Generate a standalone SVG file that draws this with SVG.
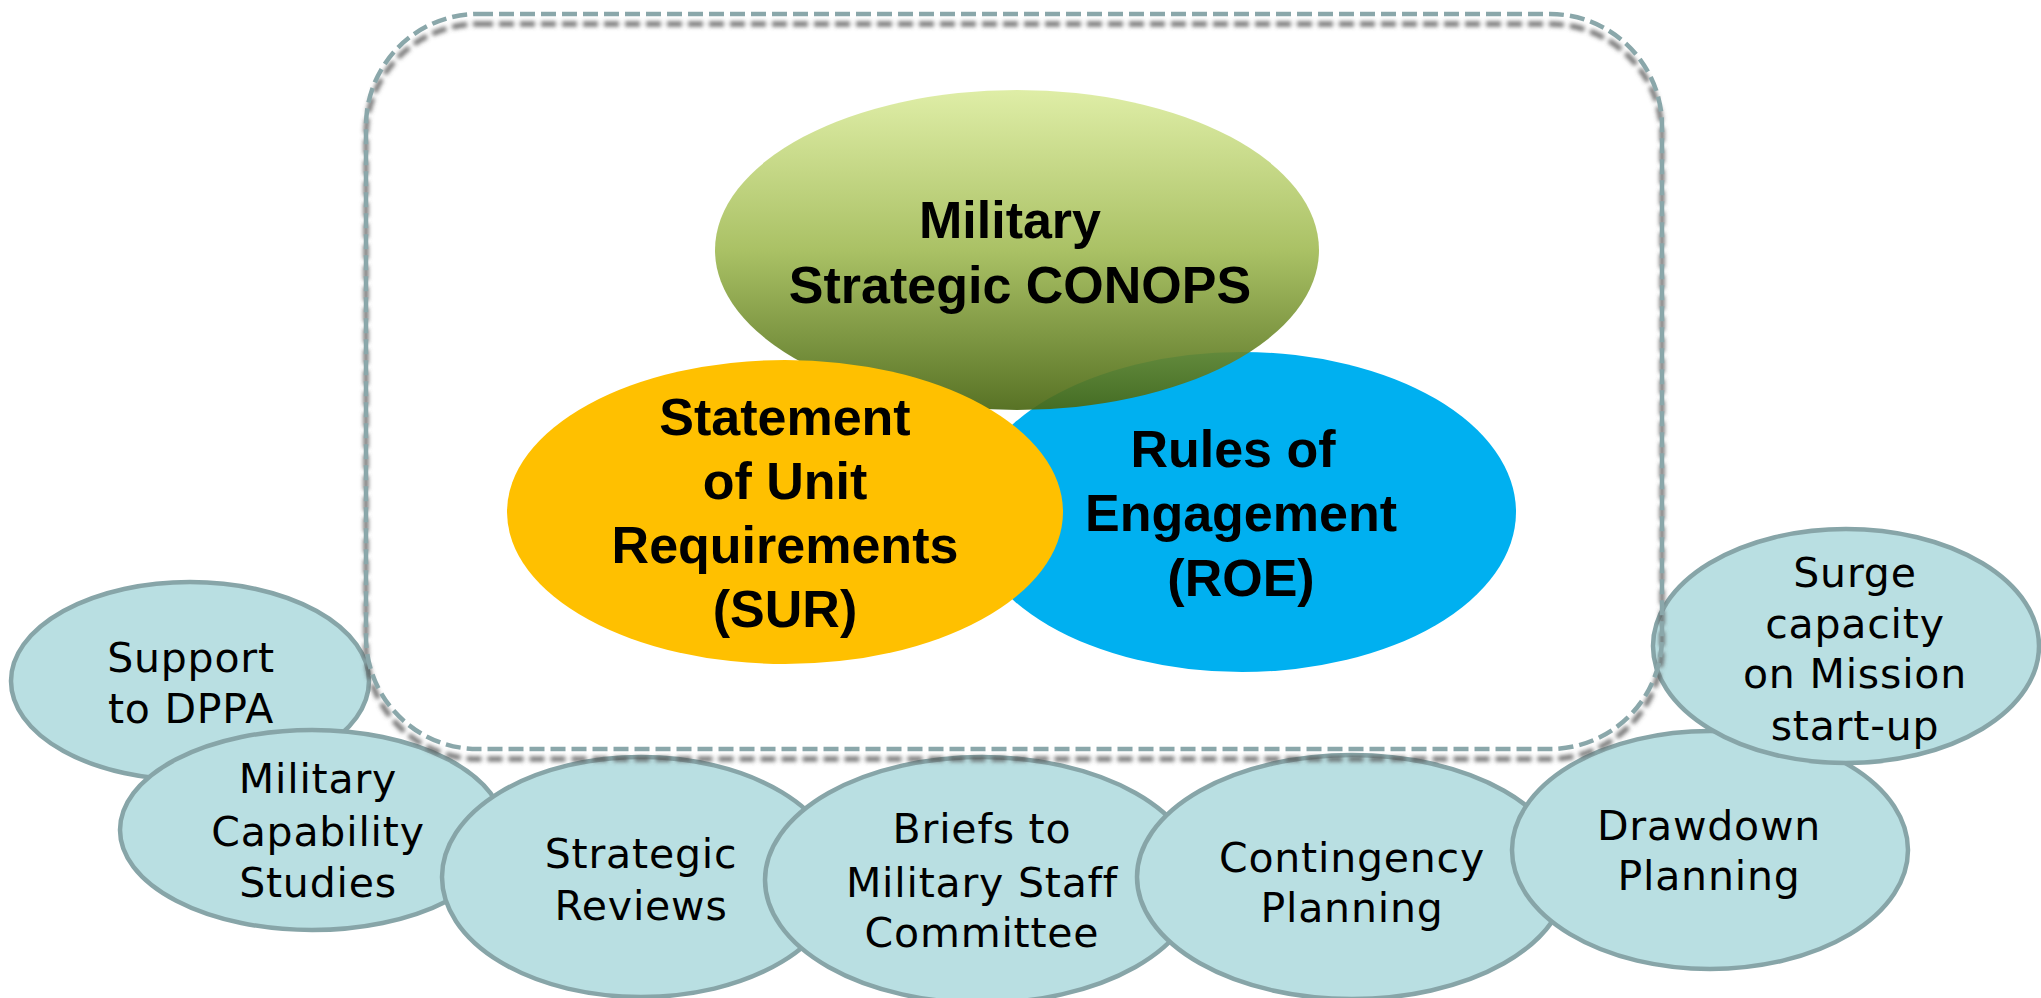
<svg xmlns="http://www.w3.org/2000/svg" width="2041" height="998" viewBox="0 0 2041 998">
  <defs>
    <linearGradient id="gGreen" x1="0" y1="0" x2="0" y2="1">
      <stop offset="0" stop-color="#DCEC9F"/>
      <stop offset="0.5" stop-color="#A3BC58"/>
      <stop offset="1" stop-color="#4A6713"/>
    </linearGradient>
    <filter id="blur" x="-5%" y="-5%" width="110%" height="110%">
      <feGaussianBlur stdDeviation="2.2"/>
    </filter>
  </defs>
  <style>
    .big { font-family: "Liberation Sans", Arial, sans-serif; font-weight: bold; font-size: 52px; fill: #000; text-anchor: middle; }
    .small { font-family: "DejaVu Sans", "Liberation Sans", sans-serif; font-size: 41px; letter-spacing: 0.8px; fill: #000; text-anchor: middle; }
    .bubble { fill: #B9DFE2; stroke: #87A5A8; stroke-width: 4.5; }
    .frame { fill: none; stroke: #8AA7AA; stroke-width: 4.5; stroke-dasharray: 15 6; }
    .frameShadow { fill: none; stroke: #555; stroke-opacity: 0.85; stroke-width: 5; stroke-dasharray: 15 6; }
  </style>
  <rect width="2041" height="998" fill="#FFFFFF"/>

  <g id="node-roe">
    <ellipse cx="1242" cy="512" rx="274" ry="160" fill="#00B0F0"/>
  </g>
  <g id="node-conops">
    <ellipse cx="1017" cy="250" rx="302" ry="160" fill="url(#gGreen)" fill-opacity="0.92"/>
    <text class="big" x="1010" y="238">Military</text>
    <text class="big" x="1020" y="303">Strategic CONOPS</text>
  </g>
  <g id="node-sur">
    <ellipse cx="785" cy="512" rx="278" ry="152" fill="#FFC000"/>
    <text class="big" x="785" y="435">Statement</text>
    <text class="big" x="785" y="499">of Unit</text>
    <text class="big" x="785" y="563">Requirements</text>
    <text class="big" x="785" y="627">(SUR)</text>
  </g>
  <g id="node-roe-label">
    <text class="big" x="1233" y="467">Rules of</text>
    <text class="big" x="1241" y="531">Engagement</text>
    <text class="big" x="1241" y="596">(ROE)</text>
  </g>

  <g id="node-support-dppa">
    <ellipse class="bubble" cx="190" cy="681" rx="179" ry="99"/>
    <text class="small" x="191" y="672">Support</text>
    <text class="small" x="191" y="723">to DPPA</text>
  </g>
  <g id="node-capability-studies">
    <ellipse class="bubble" cx="312" cy="830" rx="192" ry="100"/>
    <text class="small" x="318" y="793">Military</text>
    <text class="small" x="318" y="846">Capability</text>
    <text class="small" x="318" y="897">Studies</text>
  </g>
  <g id="node-strategic-reviews">
    <ellipse class="bubble" cx="641" cy="877" rx="199" ry="120"/>
    <text class="small" x="641" y="868">Strategic</text>
    <text class="small" x="641" y="920">Reviews</text>
  </g>
  <g id="node-briefs-msc">
    <ellipse class="bubble" cx="982" cy="880" rx="217" ry="123"/>
    <text class="small" x="982" y="843">Briefs to</text>
    <text class="small" x="982" y="897">Military Staff</text>
    <text class="small" x="982" y="947">Committee</text>
  </g>
  <g id="node-contingency">
    <ellipse class="bubble" cx="1352" cy="877" rx="215" ry="122"/>
    <text class="small" x="1352" y="872">Contingency</text>
    <text class="small" x="1352" y="922">Planning</text>
  </g>
  <g id="node-drawdown">
    <ellipse class="bubble" cx="1710" cy="850" rx="198" ry="119"/>
    <text class="small" x="1709" y="840">Drawdown</text>
    <text class="small" x="1709" y="890">Planning</text>
  </g>
  <g id="node-surge">
    <ellipse class="bubble" cx="1846" cy="646" rx="193" ry="117"/>
    <text class="small" x="1855" y="587">Surge</text>
    <text class="small" x="1855" y="638">capacity</text>
    <text class="small" x="1855" y="688">on Mission</text>
    <text class="small" x="1855" y="740">start-up</text>
  </g>

  <g id="frame">
    <rect class="frameShadow" x="366" y="24" width="1296" height="735" rx="112" ry="112" filter="url(#blur)"/>
    <rect class="frame" x="366" y="14" width="1296" height="735" rx="112" ry="112"/>
  </g>

  <g id="connectors"></g>
</svg>
